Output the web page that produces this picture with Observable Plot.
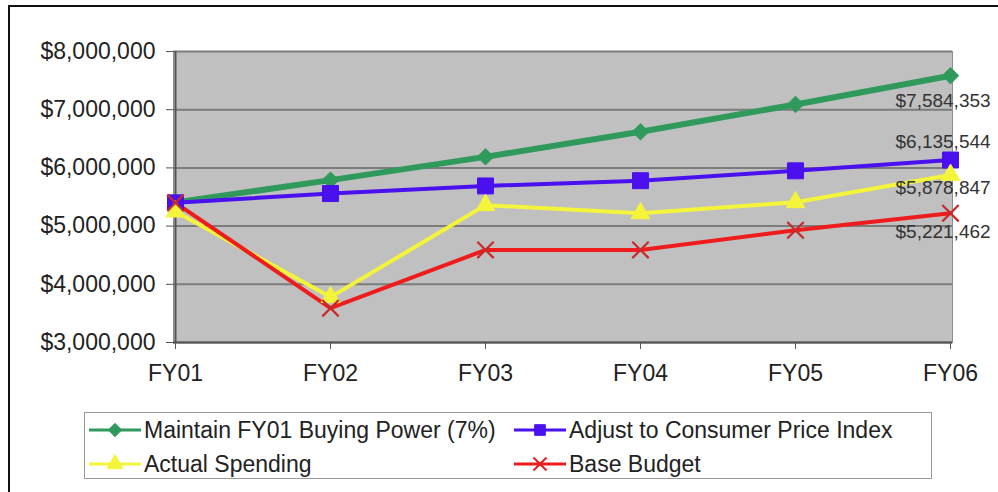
<!DOCTYPE html>
<html><head><meta charset="utf-8">
<script src="https://cdn.jsdelivr.net/npm/d3@7"></script>
<script src="https://cdn.jsdelivr.net/npm/@observablehq/plot@0.6"></script>
<style>
body{margin:0;background:#fff;font-family:"Liberation Sans",Arial,sans-serif;}
#wrap{position:relative;width:998px;height:492px;overflow:hidden;background:#fff}
#border{position:absolute;left:8px;top:5px;width:1010px;height:500px;border:2px solid #111;box-sizing:border-box;pointer-events:none}
#chart{position:absolute;left:0;top:0}
#legend{position:absolute;left:84px;top:412px;width:848px;height:67px;border:1px solid #999;box-sizing:border-box;background:#fff}
.item{position:absolute;display:flex;align-items:center;height:30px;font-size:23px;color:#222;white-space:nowrap}
.item svg{margin-right:3px}
</style></head><body><div id="wrap"><div id="chart"></div><div id="legend"></div><div id="border"></div></div>
<script>
const years = ["FY01", "FY02", "FY03", "FY04", "FY05", "FY06"];
const seriesNames = ["Maintain FY01 Buying Power (7%)", "Adjust to Consumer Price Index", "Actual Spending", "Base Budget"];
const buyingPower = [5407550, 5790000, 6190000, 6620000, 7090000, 7584353];
const consumerPrice = [5400000, 5560000, 5690000, 5780000, 5950000, 6135544];
const actualSpending = [5250000, 3780000, 5360000, 5220000, 5410000, 5878847];
const baseBudget = [5400000, 3590000, 4590000, 4590000, 4930000, 5221462];
const yTicks = [3000000, 4000000, 5000000, 6000000, 7000000, 8000000];

const valuesBySeries = [buyingPower, consumerPrice, actualSpending, baseBudget];
const styles = {
  "Maintain FY01 Buying Power (7%)": {color: "#2f9a5c", width: 6, symbol: "diamond2", r: 7.4, fill: true, dy: 25},
  "Adjust to Consumer Price Index": {color: "#4a10ee", width: 4, symbol: "square", r: 9, fill: true, dy: -18},
  "Actual Spending": {color: "#f4f43a", width: 4, symbol: "triangle", r: 7, fill: true, dy: 13},
  "Base Budget": {color: "#ee1c1c", width: 4, symbol: "times", r: 7.5, fill: false, dy: 19, markColor: "#c62a2a"}
};

const rows = seriesNames.flatMap((s, i) => years.map((yr, j) => ({series: s, year: yr, value: valuesBySeries[i][j]})));
const fmt = d => "$" + d3.format(",")(d);

const marks = [
  Plot.frame({fill: "#c0c0c0", stroke: "#8c8c8c"}),
  Plot.gridY(yTicks, {stroke: "#7c7c7c", strokeOpacity: 1, strokeWidth: 2}),
  Plot.axisY(yTicks, {tickFormat: fmt, tickSize: 7, tickPadding: 11, label: null, fontSize: 23, stroke: "#555"}),
  Plot.axisX(years, {tickSize: 7, tickPadding: 15, label: null, fontSize: 23, stroke: "#555"}),
  Plot.ruleX([years[0]], {stroke: "#555", strokeWidth: 2}),
  Plot.ruleY([yTicks[0]], {stroke: "#555", strokeWidth: 2})
];
for (const s of seriesNames) {
  const st = styles[s];
  const data = rows.filter(d => d.series === s);
  marks.push(Plot.line(data, {x: "year", y: "value", stroke: st.color, strokeWidth: st.width}));
}
for (const s of seriesNames) {
  const st = styles[s];
  const data = rows.filter(d => d.series === s);
  marks.push(Plot.dot(data, st.fill
    ? {x: "year", y: "value", symbol: () => st.symbol, r: st.r, fill: st.color, stroke: st.color, strokeWidth: 1}
    : {x: "year", y: "value", symbol: () => st.symbol, r: st.r, fill: "none", stroke: st.markColor, strokeWidth: 2.2}));
}
for (const s of seriesNames) {
  const st = styles[s];
  const last = rows.filter(d => d.series === s && d.year === years[years.length - 1]);
  marks.push(Plot.text(last, {x: "year", y: "value", text: d => fmt(d.value), textAnchor: "start", dx: -55, dy: st.dy, fontSize: 19, fill: "#333"}));
}

const chart = Plot.plot({
  width: 998, height: 492,
  marginLeft: 173, marginRight: 46, marginTop: 51, marginBottom: 150,
  x: {type: "point", domain: years, padding: 0},
  y: {domain: [3000000, 8000000]},
  symbol: {type: "identity"},
  style: {fontFamily: "'Liberation Sans', Arial, sans-serif", color: "#222", background: "transparent", overflow: "visible"},
  marks
});
document.getElementById("chart").appendChild(chart);

// legend
const legend = document.getElementById("legend");
const pos = [[4, 2], [429, 2], [4, 36], [429, 36]];
seriesNames.forEach((s, i) => {
  const st = styles[s];
  const div = document.createElement("div");
  div.className = "item";
  div.style.left = pos[i][0] + "px";
  div.style.top = pos[i][1] + "px";
  const svg = d3.create("svg").attr("width", 52).attr("height", 24);
  svg.append("line").attr("x1", 0).attr("x2", 52).attr("y1", 12).attr("y2", 12).attr("stroke", st.color).attr("stroke-width", 3);
  const symMap = {diamond2: d3.symbolDiamond2, square: d3.symbolSquare, triangle: d3.symbolTriangle, times: d3.symbolTimes};
  const size = Math.PI * 6 * 6;
  svg.append("path").attr("transform", "translate(26,12)").attr("d", d3.symbol(symMap[st.symbol], size)())
    .attr("fill", st.fill ? st.color : "none").attr("stroke", st.fill ? st.color : "#ee1c1c").attr("stroke-width", st.fill ? 1 : 2);
  div.appendChild(svg.node());
  const span = document.createElement("span");
  span.textContent = s;
  div.appendChild(span);
  legend.appendChild(div);
});
</script>
</body></html>
